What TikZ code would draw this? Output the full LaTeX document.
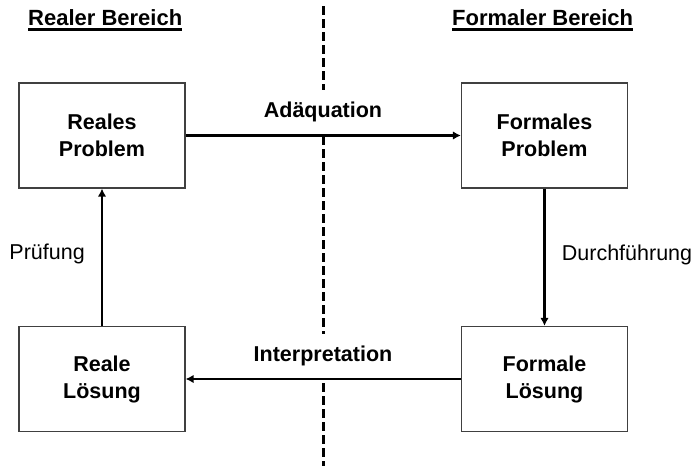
\documentclass[tikz,border=0pt]{standalone}
\usepackage{fontspec}
\setmainfont{Liberation Sans}
\usetikzlibrary{arrows.meta}
\begin{document}
\begin{tikzpicture}[x=1pt,y=-1pt,
  box/.style={draw=black!75, line width=1.2pt, minimum width=166pt, minimum height=105pt,
    align=center, inner sep=0pt, font=\fontsize{21.5}{27}\selectfont\bfseries},
  conn/.style={line width=2.9pt, -{Latex[length=8pt,width=8.5pt]}},
  divider/.style={line width=3pt, dash pattern=on 9pt off 4pt},
  steplabel/.style={fill=white, minimum height=44pt, inner xsep=2pt, font=\fontsize{21.5}{25}\selectfont\bfseries},
  sidelabel/.style={inner sep=0pt, font=\fontsize{21.5}{25}\selectfont},
  header/.style={inner sep=0pt, font=\fontsize{22}{25}\selectfont\bfseries},
  uline/.style={line width=2.3pt}
]
\useasboundingbox (0,0) rectangle (696,466);
% divider
\coordinate (dtop) at (323,6);
\coordinate (dbot) at (323,466);
\draw[divider] (dtop) -- (dbot);
% headers
\node[header, anchor=base west] (h1) at (28,25) {Realer Bereich};
\node[header, anchor=base west] (h2) at (452,25) {Formaler Bereich};
\draw[uline] ([yshift=-4.4pt]h1.base west) -- ([yshift=-4.4pt]h1.base east);
\draw[uline] ([yshift=-4.4pt]h2.base west) -- ([yshift=-4.4pt]h2.base east);
% boxes
\node[box] (rp) at (102,135.5) {Reales\\Problem};
\node[box] (fp) at (544.5,135.5) {Formales\\Problem};
\node[box] (rl) at (102,379) {Reale\\Lösung};
\node[box] (fl) at (544.5,379) {Formale\\Lösung};
% connectors
\draw[conn] (rp) -- (fp);
\draw[conn] (fp) -- (fl);
\draw[conn] (fl) -- (rl);
\draw[conn] (rl) -- (rp);
% labels
\node[steplabel] (la) at (323,112) {Adäquation};
\node[steplabel] (li) at (323,355.5) {Interpretation};
\node[sidelabel, anchor=base east] (lp) at (85,259.3) {Prüfung};
\node[sidelabel, anchor=base west] (ld) at (561.7,260) {Durchführung};
\end{tikzpicture}
\end{document}
